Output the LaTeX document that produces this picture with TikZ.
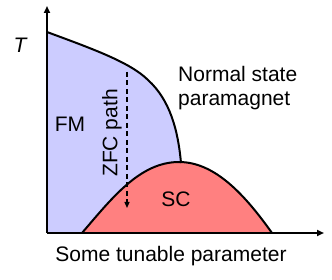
\documentclass[tikz,border=0pt]{standalone}
\usepackage{fontspec}
\setmainfont{Liberation Sans}
\usetikzlibrary{arrows.meta}
\definecolor{fmblue}{RGB}{204,204,255}
\definecolor{scred}{RGB}{255,128,128}
\begin{document}
\begin{tikzpicture}[x=1pt,y=-1pt,
  lbl/.style={font=\fontsize{21}{24}\selectfont, inner sep=0pt},
  axisline/.style={line width=2pt, -{Triangle[length=7pt,width=6pt]}},
  bound/.style={line width=2pt}]
\useasboundingbox (0,0) rectangle (332,280);
% FM region
\fill[fmblue] (47,233) -- (47,32) .. controls (90,48) and (130,62) .. (148,80)
  .. controls (170,100) and (178,130) .. (181,163) -- (181,233) -- cycle;
% SC dome
\fill[scred] (82,233) .. controls (112,198) and (140,162) .. (179,162)
  .. controls (215,162) and (245,195) .. (272,233) -- cycle;
\draw[bound] (82,233) .. controls (112,198) and (140,162) .. (179,162)
  .. controls (215,162) and (245,195) .. (272,233);
\draw[bound] (47,32) .. controls (90,48) and (130,62) .. (148,80)
  .. controls (170,100) and (178,130) .. (181,163);
% axes
\coordinate (o) at (47,233);
\coordinate (ytip) at (47,6);
\coordinate (xtip) at (324,233);
\draw[axisline] (o) -- (ytip);
\draw[axisline] (o) -- (xtip);
% ZFC path
\coordinate (zs) at (127,72);
\coordinate (ze) at (127,208);
\draw[line width=1.3pt, dash pattern=on 5pt off 3.5pt, -{Triangle[length=6pt,width=5pt]}] (zs) -- (ze);
% labels
\node[lbl, font=\fontsize{21}{24}\selectfont\itshape] (T) at (20,45) {T};
\node[lbl] (fm) at (70,124) {FM};
\node[lbl] (sc) at (176,199) {SC};
\node[lbl, rotate=90] (zfc) at (112,133) {ZFC path};
\node[lbl, align=left, anchor=north west] (ns) at (178,66) {Normal state\\paramagnet};
\node[lbl] (xl) at (171,256) {Some tunable parameter};
\end{tikzpicture}
\end{document}
